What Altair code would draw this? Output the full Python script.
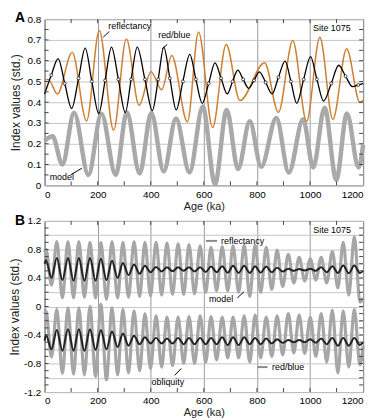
import altair as alt
import pandas as pd

# ---------------- Panel A data (extrema) ----------------
refl_age = [0, 14, 48, 104, 158, 206, 260, 308, 356, 401, 441, 479, 538, 580, 633, 684, 736, 829, 881, 935, 987, 1037, 1086, 1138, 1188, 1200]
refl_val = [0.505, 0.51, 0.44, 0.64, 0.31, 0.745, 0.265, 0.705, 0.385, 0.547, 0.46, 0.625, 0.305, 0.738, 0.278, 0.678, 0.408, 0.59, 0.351, 0.697, 0.308, 0.713, 0.317, 0.657, 0.399, 0.41]

rb_age = [0, 51, 102, 153, 204, 252, 304, 349, 406, 449, 496, 547, 594, 642, 688, 728, 769, 809, 857, 906, 950, 1002, 1051, 1108, 1160, 1200]
rb_val = [0.44, 0.61, 0.37, 0.66, 0.345, 0.665, 0.35, 0.665, 0.36, 0.665, 0.363, 0.63, 0.395, 0.589, 0.44, 0.555, 0.467, 0.546, 0.44, 0.598, 0.395, 0.62, 0.406, 0.578, 0.475, 0.49]
rb_dot_age = [25, 76, 128, 178, 228, 278, 326, 378, 428, 472, 521, 570, 618, 665, 708, 748, 789, 833, 881, 928, 976, 1026, 1080, 1134, 1182]
rb_dot_val = [0.53, 0.49, 0.515, 0.50, 0.505, 0.51, 0.51, 0.51, 0.51, 0.515, 0.50, 0.51, 0.49, 0.515, 0.50, 0.51, 0.505, 0.495, 0.52, 0.50, 0.51, 0.51, 0.49, 0.525, 0.483]

modelA_age = [0, 30, 67, 111, 165, 214, 268, 310, 358, 402, 449, 495, 546, 596, 642, 686, 729, 773, 816, 873, 920, 974, 1012, 1055, 1099, 1139, 1183, 1200]
modelA_val = [0.215, 0.236, 0.10, 0.349, 0.05, 0.345, 0.05, 0.352, 0.057, 0.348, 0.067, 0.322, 0.062, 0.379, 0.006, 0.363, 0.078, 0.308, 0.089, 0.324, 0.062, 0.318, 0.086, 0.374, 0.026, 0.346, 0.086, 0.195]

# ---------------- Panel B data (41-ka band, extrema) ----------------
b_peak_age = [5, 46, 88, 129, 171, 212, 254, 295, 337, 378, 420, 461, 503, 544, 586, 627, 669, 710, 752, 793, 835, 876, 918, 959, 1001, 1042, 1084, 1125, 1167]
b_trough_age = [26, 67, 109, 150, 192, 233, 275, 316, 358, 399, 441, 482, 524, 565, 607, 648, 690, 731, 773, 814, 856, 897, 939, 980, 1022, 1063, 1105, 1146, 1188]

refl_filt_start, refl_filt_end = 0.76, 0.12
refl_filt_peak = [0.80, 0.91, 0.91, 0.91, 0.90, 0.90, 0.91, 0.90, 0.91, 0.90, 0.90, 0.89, 0.88, 0.87, 0.85, 0.83, 0.84, 0.85, 0.86, 0.86, 0.83, 0.79, 0.73, 0.69, 0.67, 0.69, 0.77, 0.90, 0.98]
refl_filt_trough = [0.30, 0.12, 0.12, 0.13, 0.12, 0.10, 0.12, 0.13, 0.14, 0.15, 0.16, 0.17, 0.17, 0.18, 0.20, 0.22, 0.22, 0.20, 0.14, 0.20, 0.24, 0.28, 0.33, 0.36, 0.37, 0.33, 0.26, 0.16, 0.06]

model_up_start, model_up_end = 0.60, 0.50
model_up_peak = [0.65, 0.68, 0.68, 0.68, 0.68, 0.67, 0.64, 0.61, 0.59, 0.57, 0.555, 0.55, 0.55, 0.55, 0.55, 0.56, 0.565, 0.57, 0.57, 0.565, 0.56, 0.545, 0.53, 0.525, 0.53, 0.55, 0.565, 0.575, 0.575]
model_up_trough = [0.40, 0.37, 0.36, 0.36, 0.36, 0.37, 0.40, 0.44, 0.46, 0.48, 0.49, 0.495, 0.50, 0.49, 0.485, 0.48, 0.475, 0.47, 0.47, 0.475, 0.48, 0.49, 0.50, 0.505, 0.50, 0.48, 0.47, 0.465, 0.47]

rb_filt_start, rb_filt_end = -0.10, -0.55
rb_filt_peak = [-0.06, -0.04, -0.02, -0.02, 0.00, 0.03, -0.02, -0.04, -0.06, -0.10, -0.13, -0.15, -0.15, -0.14, -0.13, -0.14, -0.15, -0.15, -0.13, -0.12, -0.15, -0.13, -0.10, -0.12, -0.15, -0.10, -0.05, -0.06, -0.04]
rb_filt_trough = [-0.71, -0.94, -0.95, -0.96, -0.98, -1.03, -0.96, -0.93, -0.90, -0.87, -0.85, -0.83, -0.80, -0.80, -0.78, -0.75, -0.72, -0.72, -0.78, -0.72, -0.70, -0.68, -0.65, -0.66, -0.70, -0.78, -0.93, -0.85, -0.82]

model_lo_start, model_lo_end = -0.48, -0.50
model_lo_peak = [-0.40, -0.33, -0.32, -0.32, -0.32, -0.33, -0.35, -0.38, -0.41, -0.43, -0.44, -0.45, -0.44, -0.44, -0.44, -0.44, -0.43, -0.43, -0.43, -0.44, -0.45, -0.46, -0.47, -0.47, -0.46, -0.45, -0.44, -0.44, -0.44]
model_lo_trough = [-0.60, -0.62, -0.62, -0.62, -0.61, -0.60, -0.57, -0.55, -0.53, -0.52, -0.52, -0.52, -0.53, -0.53, -0.53, -0.53, -0.54, -0.54, -0.53, -0.53, -0.52, -0.51, -0.50, -0.50, -0.51, -0.53, -0.55, -0.55, -0.54]

x_labels = [0, 200, 400, 600, 800, 1000, 1200]
x_minor = [100, 200, 300, 400, 500, 600, 700, 800, 900, 1000, 1100]
ya_labels = [0, 0.1, 0.2, 0.3, 0.4, 0.5, 0.6, 0.7, 0.8]
ya_minor = [0.05, 0.1, 0.15, 0.2, 0.25, 0.3, 0.35, 0.4, 0.45, 0.5, 0.55, 0.6, 0.65, 0.7, 0.75]
yb_grid = [-1.2, -1.0, -0.8, -0.6, -0.4, -0.2, 0, 0.2, 0.4, 0.6, 0.8, 1.0, 1.2]
yb_minor = [-1.1, -1.0, -0.9, -0.8, -0.7, -0.6, -0.5, -0.4, -0.3, -0.2, -0.1, 0, 0.1, 0.2, 0.3, 0.4, 0.5, 0.6, 0.7, 0.8, 0.9, 1.0, 1.1]

FONT = "Liberation Sans"
W, HA, HB = 322, 168, 173


def band_series(start, peaks, troughs, end):
    ages, vals = [0], [start]
    for pa, pv, ta, tv in zip(b_peak_age, peaks, b_trough_age, troughs):
        ages += [pa, ta]
        vals += [pv, tv]
    ages.append(1200)
    vals.append(end)
    return pd.DataFrame({"age": ages, "val": vals})


xs = alt.Scale(domain=[0, 1200], nice=False, zero=False)
ysA = alt.Scale(domain=[0, 0.8], nice=False, zero=False)
ysB = alt.Scale(domain=[-1.2, 1.2], nice=False, zero=False)

xax = alt.Axis(values=x_labels, title="Age (ka)", format="d", grid=True, gridColor="#9a9a9a",
               ticks=False, domain=False, labelPadding=4, titlePadding=1, titleFontSize=11,
               titleFontWeight=400, titleFont=FONT, titleColor="#222")
yaxA = alt.Axis(values=ya_labels, title="Index values (std.)", grid=True, gridColor="#c4c4c4",
                ticks=False, domain=False, labelPadding=4, titlePadding=4,
                titleFontWeight=400, titleFont=FONT, titleFontSize=12, titleColor="#222",
                labelExpr="datum.value == 0 ? '0' : format(datum.value, '.1f')")
yaxB = alt.Axis(values=yb_grid, title="Index values (std.)", grid=True, gridColor="#c4c4c4",
                ticks=False, domain=False, labelPadding=4, titlePadding=2,
                titleFontWeight=400, titleFont=FONT, titleFontSize=12, titleColor="#222",
                labelExpr="abs(round(datum.value*10)) % 4 == 0 ? (datum.value == 0 ? '0' : replace(format(datum.value, '.1f'), '\u2212', '-')) : ''")


def X():
    return alt.X("age:Q", scale=xs, axis=xax)


def frame_ticks(ys, yax, ymin, H):
    top = alt.Chart(pd.DataFrame({"age": x_minor})).mark_rule(color="#444", strokeWidth=1).encode(
        x=X(), y=alt.value(0), y2=alt.value(4))
    bot = alt.Chart(pd.DataFrame({"age": x_minor})).mark_rule(color="#444", strokeWidth=1).encode(
        x=X(), y=alt.value(H - 4), y2=alt.value(H))
    left = alt.Chart(pd.DataFrame({"val": ymin})).mark_rule(color="#444", strokeWidth=1).encode(
        y=alt.Y("val:Q", scale=ys, axis=yax), x=alt.value(0), x2=alt.value(4))
    right = alt.Chart(pd.DataFrame({"val": ymin})).mark_rule(color="#444", strokeWidth=1).encode(
        y=alt.Y("val:Q", scale=ys, axis=yax), x=alt.value(W - 4), x2=alt.value(W))
    return [top, bot, left, right]


def line(df, ys, yax, color, width):
    return alt.Chart(df).mark_line(color=color, strokeWidth=width, interpolate="monotone").encode(
        x=X(), y=alt.Y("val:Q", scale=ys, axis=yax))


def texts(rows, ys, yax, align, size=9):
    df = pd.DataFrame(rows, columns=["age", "val", "label"])
    return alt.Chart(df).mark_text(align=align, baseline="middle", font=FONT, fontSize=size, color="black").encode(
        x=X(), y=alt.Y("val:Q", scale=ys, axis=yax), text="label:N")


def pointers(rows, ys, yax, color="black", width=1):
    df = pd.DataFrame(rows, columns=["age", "val", "age2", "val2"])
    return alt.Chart(df).mark_rule(color=color, strokeWidth=width).encode(
        x=X(), x2="age2:Q", y=alt.Y("val:Q", scale=ys, axis=yax), y2="val2:Q")


# ---------------- Panel A ----------------
dfA_model = pd.DataFrame({"age": modelA_age, "val": modelA_val})
dfA_refl = pd.DataFrame({"age": refl_age, "val": refl_val})
dfA_dots = pd.DataFrame({"age": rb_dot_age, "val": rb_dot_val})
dfA_rb = pd.concat([pd.DataFrame({"age": rb_age, "val": rb_val}), dfA_dots]).sort_values("age")

dotsA = alt.Chart(dfA_dots).mark_point(filled=True, fill="white", stroke="black", strokeWidth=0.7, size=9, opacity=1).encode(
    x=X(), y=alt.Y("val:Q", scale=ysA, axis=yaxA))

letterA = alt.Chart(pd.DataFrame({"label": ["A"]})).mark_text(
    align="left", baseline="top", font=FONT, fontSize=14, fontWeight="bold").encode(
    x=alt.value(-30), y=alt.value(-8), text="label:N")

panelA = alt.layer(
    line(dfA_model, ysA, yaxA, "#a9a9a9", 4.5),
    line(dfA_refl, ysA, yaxA, "#cf7f30", 1.5),
    line(dfA_rb, ysA, yaxA, "black", 1.3),
    dotsA,
    *frame_ticks(ysA, yaxA, ya_minor, HA),
    texts([(240, 0.768, "reflectancy"), (428, 0.722, "red/blue"), (19, 0.041, "model")], ysA, yaxA, "left"),
    texts([(1153, 0.756, "Site 1075")], ysA, yaxA, "right"),
    pointers([(244, 0.741, 221, 0.713), (462, 0.678, 443, 0.657), (99, 0.051, 140, 0.082)], ysA, yaxA),
    letterA,
).properties(width=W, height=HA)

# ---------------- Panel B ----------------
dfB_ug = band_series(refl_filt_start, refl_filt_peak, refl_filt_trough, refl_filt_end)
dfB_lg = band_series(rb_filt_start, rb_filt_peak, rb_filt_trough, rb_filt_end)
dfB_ud = band_series(model_up_start, model_up_peak, model_up_trough, model_up_end)
dfB_ld = band_series(model_lo_start, model_lo_peak, model_lo_trough, model_lo_end)

letterB = alt.Chart(pd.DataFrame({"label": ["B"]})).mark_text(
    align="left", baseline="top", font=FONT, fontSize=14, fontWeight="bold").encode(
    x=alt.value(-30), y=alt.value(-7), text="label:N")

panelB = alt.layer(
    line(dfB_ug, ysB, yaxB, "#a6a6a6", 3.2),
    line(dfB_lg, ysB, yaxB, "#a6a6a6", 3.2),
    line(dfB_ud, ysB, yaxB, "#222222", 2),
    line(dfB_ld, ysB, yaxB, "#222222", 2),
    *frame_ticks(ysB, yaxB, yb_minor, HB),
    pointers([(608, 0.92, 650, 0.92), (801, -0.85, 840, -0.85)], ysB, yaxB, color="#8a8a8a", width=2),
    texts([(665, 0.92, "reflectancy"), (857, -0.85, "red/blue"), (619, 0.10, "model"), (403, -1.06, "obliquity")], ysB, yaxB, "left"),
    texts([(1154, 1.07, "Site 1075")], ysB, yaxB, "right"),
    pointers([(726, 0.12, 751, 0.205), (490, -0.965, 515, -0.87)], ysB, yaxB),
    letterB,
).properties(width=W, height=HB)

chart = alt.vconcat(panelA, panelB, spacing=36, bounds="flush").properties(
    padding={"left": 0, "top": 0, "right": 0, "bottom": 0}
).configure_view(stroke="#555", strokeWidth=1).configure_axis(
    labelFont=FONT, titleFont=FONT, labelFontSize=10, titleFontSize=12, titleFontWeight=400,
    labelColor="black", titleColor="#222", gridWidth=1
)

chart.save("out.html", embed_options={"renderer": "svg", "actions": False})
